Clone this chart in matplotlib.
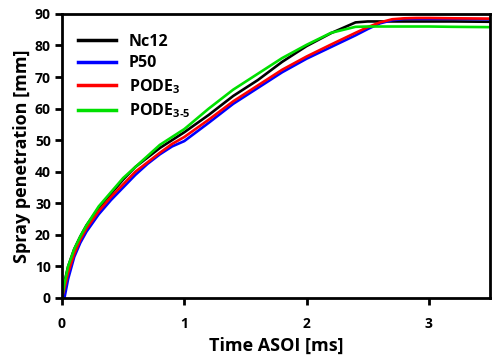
import matplotlib
matplotlib.use("Agg")
import matplotlib.pyplot as plt
import numpy as np

plt.rcParams['font.family'] = ['Open Sans', 'DejaVu Sans']
plt.rcParams['font.weight'] = 'bold'
plt.rcParams['mathtext.fontset'] = 'custom'
plt.rcParams['mathtext.rm'] = 'Open Sans:bold'
plt.rcParams['mathtext.bf'] = 'Open Sans:bold'
plt.rcParams['mathtext.default'] = 'bf'

t = [0, 0.02, 0.05, 0.1, 0.15, 0.2, 0.3, 0.4, 0.5, 0.6, 0.7, 0.8, 0.9, 1.0,
     1.2, 1.4, 1.6, 1.8, 2.0, 2.2, 2.4, 2.5, 2.6, 2.7, 2.8, 2.9, 3.0, 3.2, 3.5]

nc12 = [0, 5, 10, 15.5, 19.5, 23, 28.5, 33, 37.5, 41.5, 44.5, 47.5, 50, 52.5,
        58, 64, 69, 74.8, 79.8, 83.9, 87.3, 87.6, 87.6, 87.6, 87.6, 87.6, 87.6, 87.6, 87.5]
p50 = [0, 0, 6, 13, 17.5, 21, 26.5, 31, 35, 39, 42.5, 45.5, 48, 49.7,
       55.5, 61.5, 66.5, 71.5, 75.8, 79.5, 83.2, 85.2, 87.0, 88.0, 88.4, 88.4, 88.4, 88.4, 88.3]
pode3 = [0, 3, 8, 14, 18.5, 22, 27.5, 32, 36, 40, 43, 46, 48.8, 51,
         56.5, 62.3, 67.3, 72.3, 76.5, 80.3, 84, 85.8, 87.3, 88.3, 88.6, 88.7, 88.7, 88.6, 88.5]
pode35 = [0, 4.5, 10, 15.5, 19.5, 23, 29, 33.5, 38, 41.5, 45, 48.5, 51, 53.5,
          60, 66, 71, 76, 80.2, 84.0, 85.9, 86, 86, 86, 86, 86, 86, 85.9, 85.8]

series = [
    ("Nc12", nc12, "black"),
    ("P50", p50, "#0000ff"),
    ("PODE$_{3}$", pode3, "#ff0000"),
    ("PODE$_{3\u20115}$", pode35, "#00e000"),
]

fig = plt.figure(figsize=(4.94, 3.56), dpi=100)
ax = fig.add_axes([0.1255, 0.163, 0.8665, 0.798])

for label, y, c in series:
    ax.plot(t, y, color=c, lw=1.9, label=label)

ax.set_xlim(0, 3.5)
ax.set_ylim(0, 90)
ax.set_xticks([0, 1, 2, 3])
ax.set_yticks(range(0, 91, 10))
for s in ax.spines.values():
    s.set_linewidth(2)
ax.tick_params(direction='out', length=5, width=2, labelsize=10)
ax.tick_params(axis='x', pad=9)
ax.tick_params(axis='y', pad=3)
for lab in ax.get_xticklabels() + ax.get_yticklabels():
    lab.set_fontweight('bold')

ax.set_xlabel("Time ASOI [ms]", fontsize=13, fontweight='bold', labelpad=4)
ax.set_ylabel("Spray penetration [mm]", fontsize=13, fontweight='bold', labelpad=3)

leg = ax.legend(loc='upper left', bbox_to_anchor=(0.022, 0.953), borderaxespad=0,
                frameon=False, handlelength=2.4, handletextpad=0.8, labelspacing=0.35,
                prop={'weight': 'bold', 'size': 11.5})
for line in leg.get_lines():
    line.set_linewidth(2.5)

fig.savefig("out.png", dpi=100)
